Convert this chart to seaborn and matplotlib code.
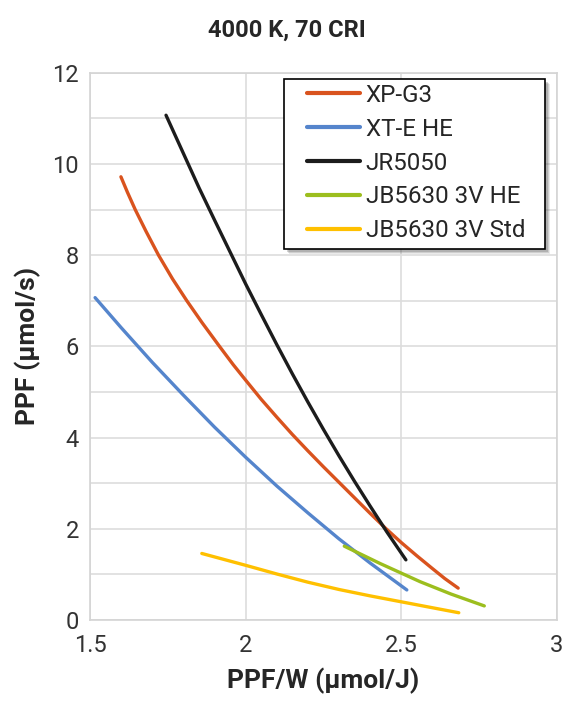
import pandas as pd
import matplotlib.pyplot as plt
import seaborn as sns
from matplotlib.ticker import MultipleLocator
from matplotlib.patches import Rectangle
from matplotlib.transforms import ScaledTranslation

sns.set_theme(style="white")
plt.rcParams['font.family'] = ['Roboto', 'DejaVu Sans']

# series (x = PPF/W, y = PPF)
xpg3_x = [1.599, 1.620, 1.645, 1.680, 1.720, 1.765, 1.811, 1.860, 1.916, 1.960, 2.000,
          2.050, 2.100, 2.150, 2.200, 2.250, 2.300, 2.350, 2.400, 2.450, 2.500, 2.550,
          2.600, 2.640, 2.683]
xpg3_y = [9.72, 9.38, 9.00, 8.52, 8.00, 7.48, 7.00, 6.52, 6.00, 5.60, 5.26,
          4.84, 4.45, 4.07, 3.71, 3.36, 3.02, 2.68, 2.34, 2.01, 1.70, 1.41,
          1.13, 0.91, 0.70]

xte_x = [1.516, 1.600, 1.700, 1.800, 1.900, 2.000, 2.100, 2.200, 2.300, 2.400, 2.518]
xte_y = [7.07, 6.41, 5.65, 4.93, 4.23, 3.57, 2.94, 2.35, 1.78, 1.25, 0.66]

jr_x = [1.744, 1.770, 1.800, 1.850, 1.900, 1.950, 2.000, 2.050, 2.100, 2.150, 2.200,
        2.250, 2.300, 2.350, 2.400, 2.454, 2.515]
jr_y = [11.07, 10.68, 10.23, 9.48, 8.77, 8.07, 7.37, 6.70, 6.04, 5.40, 4.78,
        4.18, 3.60, 3.04, 2.50, 1.93, 1.32]

jbhe_x = [2.317, 2.432, 2.561, 2.660, 2.767]
jbhe_y = [1.62, 1.24, 0.84, 0.57, 0.31]

jbstd_x = [1.859, 2.000, 2.100, 2.200, 2.300, 2.400, 2.500, 2.600, 2.685]
jbstd_y = [1.46, 1.20, 1.01, 0.83, 0.67, 0.53, 0.40, 0.27, 0.16]

names = ['XP-G3', 'XT-E HE', 'JR5050', 'JB5630 3V HE', 'JB5630 3V Std']
colors = ['#D9531E', '#5585CC', '#1C1C1C', '#9CBE1E', '#FFC000']

series = [(xpg3_x, xpg3_y), (xte_x, xte_y), (jr_x, jr_y), (jbhe_x, jbhe_y), (jbstd_x, jbstd_y)]
frames = []
for name, (xs, ys) in zip(names, series):
    frames.append(pd.DataFrame({'ppfw': xs, 'ppf': ys, 'led': name}))
df = pd.concat(frames, ignore_index=True)

fig = plt.figure(figsize=(5.74, 7.07), dpi=100)
ax = fig.add_axes([0.157, 0.123, 0.813, 0.774])

sns.lineplot(data=df, x='ppfw', y='ppf', hue='led', hue_order=names,
             palette=dict(zip(names, colors)), sort=False, estimator=None,
             linewidth=2.4, ax=ax)
for ln in ax.get_lines():
    ln.set_solid_capstyle('round')
    ln.set_solid_joinstyle('round')

ax.set_xlim(1.5, 3)
ax.set_ylim(0, 12)
ax.yaxis.set_major_locator(MultipleLocator(2))
ax.yaxis.set_minor_locator(MultipleLocator(1))
ax.set_xticks([1.5, 2, 2.5, 3])
ax.set_xticklabels(['1.5', '2', '2.5', '3'])
ax.grid(True, which='both', color='#dddddd', linewidth=1.2)
ax.set_axisbelow(True)
ax.tick_params(axis='both', which='both', length=0, labelsize=17, colors='#333333')
ax.tick_params(axis='x', pad=10)
ax.tick_params(axis='y', pad=8)
for s in ax.spines.values():
    s.set_color('#d4d4d4')
    s.set_linewidth(1.2)

ax.set_xlabel('PPF/W (µmol/J)', fontsize=19, fontweight='bold', color='#262626', labelpad=8)
ax.set_ylabel('PPF (µmol/s)', fontsize=19, fontweight='bold', color='#262626', labelpad=8)
ax.set_title('4000 K, 70 CRI', fontsize=17, fontweight='bold', color='#262626',
             pad=26, x=0.422)

# legend frame drawn by hand so the inner padding can match the reference
lx, ly, lw, lh = 0.415, 0.678, 0.559, 0.311
for off, a in [(5, 0.12), (4, 0.18), (3, 0.25)]:
    shift = ScaledTranslation(off / 100, -off / 100, fig.dpi_scale_trans)
    ax.add_patch(Rectangle((lx, ly), lw, lh, transform=ax.transAxes + shift,
                           facecolor='#555555', edgecolor='none', alpha=a,
                           zorder=5.5, clip_on=False))
ax.add_patch(Rectangle((lx, ly), lw, lh, transform=ax.transAxes,
                       facecolor='white', edgecolor='black', linewidth=1.2,
                       zorder=6, clip_on=False))

leg = ax.legend(loc='center left', bbox_to_anchor=(0.465, 0.835), borderaxespad=0,
                fontsize=17.4, frameon=False,
                handlelength=2.2, handletextpad=0.22, labelspacing=0.45,
                borderpad=0)
leg.set_zorder(7)
for t in leg.get_texts():
    t.set_color('#262626')
for h in leg.get_lines():
    h.set_linewidth(3)

plt.savefig('out.png', dpi=100)
